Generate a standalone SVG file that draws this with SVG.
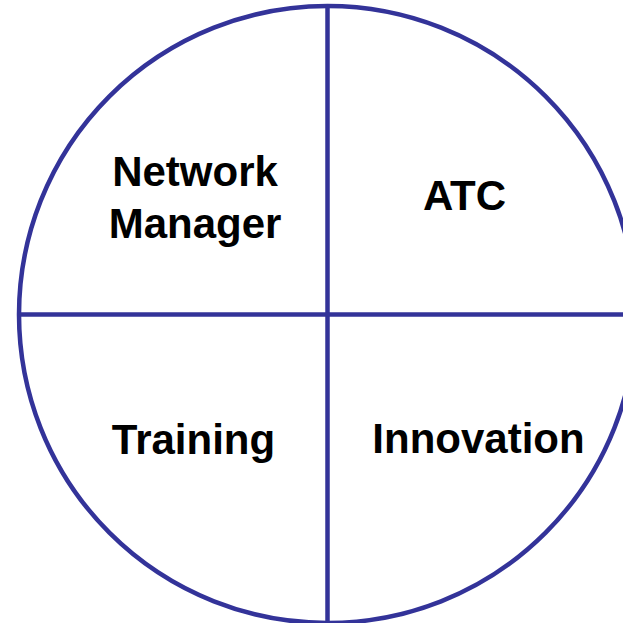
<svg xmlns="http://www.w3.org/2000/svg" width="623" height="623" viewBox="0 0 623 623">
<style>
.ln{fill:none;stroke:#333399;stroke-width:4.5}
.lbl{font-family:"Liberation Sans",Arial,sans-serif;font-weight:bold;font-size:42px;fill:#000;text-anchor:middle}
</style>
<rect width="623" height="623" fill="#fff"/>
<g id="connectors">
<circle class="ln" cx="327.5" cy="314.5" r="308.5"/>
<line class="ln" x1="327.5" y1="6" x2="327.5" y2="623"/>
<line class="ln" x1="19" y1="314.5" x2="640" y2="314.5"/>
</g>
<g id="network-manager"><text class="lbl" x="195" y="186">Network</text><text class="lbl" x="195" y="238">Manager</text></g>
<g id="atc"><text class="lbl" x="464.5" y="210">ATC</text></g>
<g id="training"><text class="lbl" x="193.5" y="454">Training</text></g>
<g id="innovation"><text class="lbl" x="478.5" y="453">Innovation</text></g>
</svg>
